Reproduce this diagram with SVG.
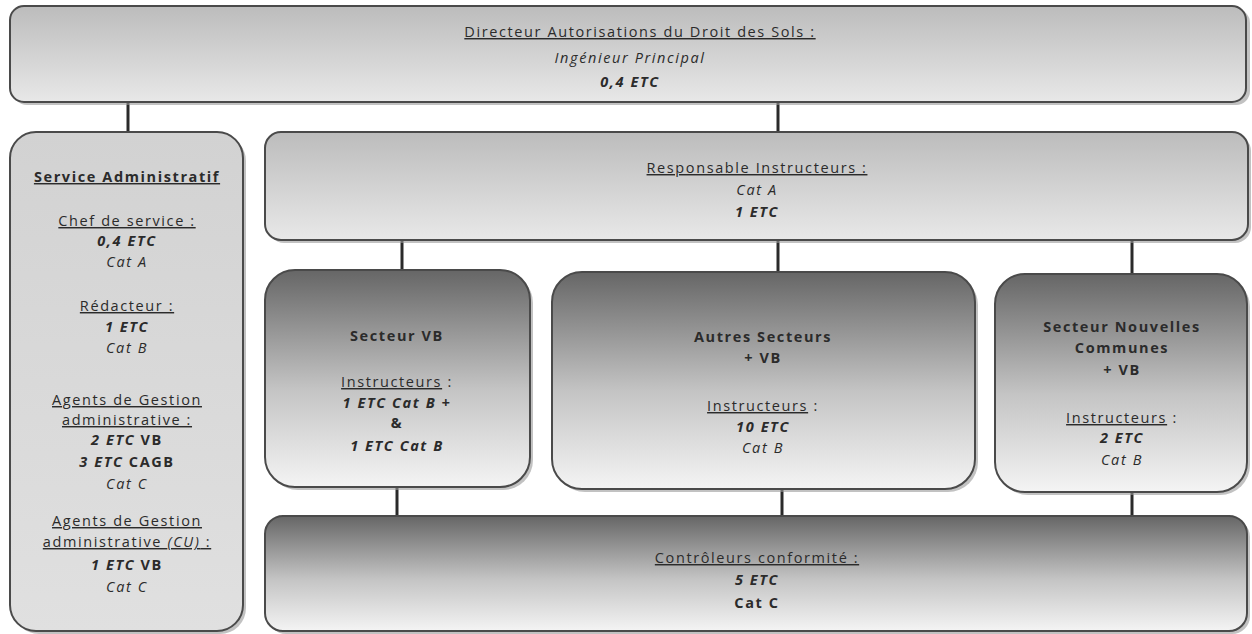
<svg xmlns="http://www.w3.org/2000/svg" width="1252" height="634" viewBox="0 0 1252 634">
<style>
text{font-family:"Open Sans","Liberation Sans",sans-serif;font-size:14.5px;letter-spacing:1.6px;fill:#2b2b2b;text-anchor:middle}
.u{text-decoration:underline}
.b{font-weight:bold}
.i{font-style:italic}
.bi{font-weight:bold;font-style:italic}
.box{stroke:#4a4a4a;stroke-width:2}
.sh{fill:#9a9a9a;opacity:0.6}
.conn{stroke:#2a2a2a;stroke-width:3;fill:none}
</style>
<defs>
<linearGradient id="gLight" x1="0" y1="0" x2="0" y2="1">
<stop offset="0" stop-color="#bcbcbc"/>
<stop offset="1" stop-color="#e8e8e8"/>
</linearGradient>
<linearGradient id="gSide" x1="0" y1="0" x2="0" y2="1">
<stop offset="0" stop-color="#d2d2d2"/>
<stop offset="1" stop-color="#e0e0e0"/>
</linearGradient>
<linearGradient id="gDark" x1="0" y1="0" x2="0" y2="1">
<stop offset="0" stop-color="#666666"/>
<stop offset="0.55" stop-color="#c4c4c4"/>
<stop offset="1" stop-color="#f4f4f4"/>
</linearGradient>
</defs>
<rect width="1252" height="634" fill="#ffffff"/>
<g id="connectors">
<line class="conn" x1="128" y1="102" x2="128" y2="133"/>
<line class="conn" x1="778" y1="102" x2="778" y2="133"/>
<line class="conn" x1="402" y1="240" x2="402" y2="271"/>
<line class="conn" x1="778" y1="240" x2="778" y2="273"/>
<line class="conn" x1="1132" y1="240" x2="1132" y2="275"/>
<line class="conn" x1="397" y1="487" x2="397" y2="517"/>
<line class="conn" x1="782" y1="489" x2="782" y2="517"/>
<line class="conn" x1="1132" y1="492" x2="1132" y2="517"/>
</g>
<g id="directeur">
<rect class="sh" x="13" y="9" width="1237" height="96" rx="14"/>
<rect class="box" x="10" y="6" width="1236" height="96" rx="14" fill="url(#gLight)"/>
<text x="640" y="37" class="u">Directeur Autorisations du Droit des Sols :</text>
<text x="630" y="63" class="i">Ingénieur Principal</text>
<text x="630" y="87" class="bi">0,4 ETC</text>
</g>
<g id="service-administratif">
<rect class="sh" x="13" y="135" width="233" height="499" rx="26"/>
<rect class="box" x="10" y="132" width="233" height="499" rx="26" fill="url(#gSide)"/>
<text x="127" y="182" class="b u">Service Administratif</text>
<text x="127" y="226" class="u">Chef de service :</text>
<text x="127" y="246" class="bi">0,4 ETC</text>
<text x="127" y="267" class="i">Cat A</text>
<text x="127" y="311" class="u">Rédacteur :</text>
<text x="127" y="332" class="bi">1 ETC</text>
<text x="127" y="353" class="i">Cat B</text>
<text x="127" y="405" class="u">Agents de Gestion</text>
<text x="127" y="425" class="u">administrative :</text>
<text x="127" y="445"><tspan class="bi">2 ETC</tspan><tspan class="b"> VB</tspan></text>
<text x="127" y="467"><tspan class="bi">3 ETC</tspan><tspan class="b"> CAGB</tspan></text>
<text x="127" y="489" class="i">Cat C</text>
<text x="127" y="526" class="u">Agents de Gestion</text>
<text x="127" y="547" class="u">administrative <tspan class="i">(CU)</tspan> :</text>
<text x="127" y="570"><tspan class="bi">1 ETC</tspan><tspan class="b"> VB</tspan></text>
<text x="127" y="592" class="i">Cat C</text>
</g>
<g id="responsable">
<rect class="sh" x="268" y="135" width="983" height="108" rx="16"/>
<rect class="box" x="265" y="132" width="983" height="108" rx="16" fill="url(#gLight)"/>
<text x="757" y="173" class="u">Responsable Instructeurs :</text>
<text x="757" y="195" class="i">Cat A</text>
<text x="757" y="217" class="bi">1 ETC</text>
</g>
<g id="secteur-vb">
<rect class="sh" x="268" y="273" width="265" height="217" rx="30"/>
<rect class="box" x="265" y="270" width="265" height="217" rx="30" fill="url(#gDark)"/>
<text x="397" y="341" class="b">Secteur  VB</text>
<text x="397" y="387"><tspan class="u">Instructeurs</tspan> :</text>
<text x="397" y="408" class="bi">1 ETC  Cat B +</text>
<text x="397" y="428" class="b">&amp;</text>
<text x="397" y="451" class="bi">1 ETC  Cat B</text>
</g>
<g id="autres-secteurs">
<rect class="sh" x="555" y="275" width="423" height="217" rx="30"/>
<rect class="box" x="552" y="272" width="423" height="217" rx="30" fill="url(#gDark)"/>
<text x="763" y="342" class="b">Autres Secteurs</text>
<text x="763" y="363" class="b">+ VB</text>
<text x="763" y="411"><tspan class="u">Instructeurs</tspan> :</text>
<text x="763" y="432" class="bi">10 ETC</text>
<text x="763" y="453" class="i">Cat B</text>
</g>
<g id="secteur-nouvelles-communes">
<rect class="sh" x="998" y="277" width="252" height="218" rx="30"/>
<rect class="box" x="995" y="274" width="252" height="218" rx="30" fill="url(#gDark)"/>
<text x="1122" y="332" class="b">Secteur Nouvelles</text>
<text x="1122" y="353" class="b">Communes</text>
<text x="1122" y="375" class="b">+ VB</text>
<text x="1122" y="423"><tspan class="u">Instructeurs</tspan> :</text>
<text x="1122" y="443" class="bi">2 ETC</text>
<text x="1122" y="465" class="i">Cat B</text>
</g>
<g id="controleurs">
<rect class="sh" x="268" y="519" width="982" height="115" rx="18"/>
<rect class="box" x="265" y="516" width="982" height="115" rx="18" fill="url(#gDark)"/>
<text x="757" y="563" class="u">Contrôleurs conformité :</text>
<text x="757" y="585" class="bi">5 ETC</text>
<text x="757" y="608" class="b">Cat C</text>
</g>
</svg>
